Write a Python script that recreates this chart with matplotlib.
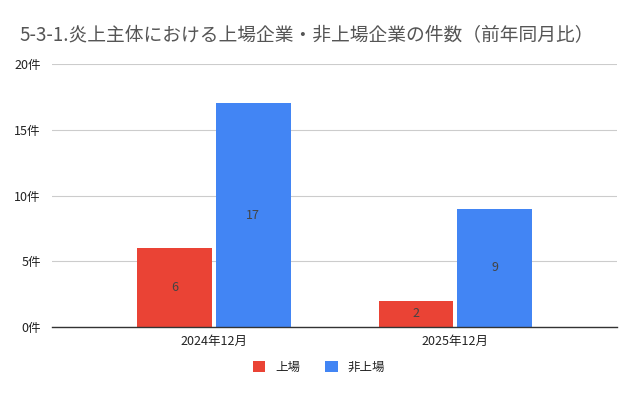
import matplotlib.pyplot as plt
import numpy as np

plt.rcParams['font.family'] = ['Noto Sans CJK JP', 'DejaVu Sans']

categories = ['2024年12月', '2025年12月']
listed = [6, 2]
unlisted = [17, 9]
series_names = ['上場', '非上場']
yticks = [0, 5, 10, 15, 20]

red = '#EA4335'
blue = '#4285F4'

fig = plt.figure(figsize=(6.38, 3.95), dpi=100)
ax = fig.add_axes([0.0815, 0.172, 0.886, 0.666])

x = np.arange(len(categories))
w = 0.31
gap = 0.008
b1 = ax.bar(x - w / 2 - gap, listed, w, color=red, label=series_names[0], zorder=3)
b2 = ax.bar(x + w / 2 + gap, unlisted, w, color=blue, label=series_names[1], zorder=3)

for bars in (b1, b2):
    for b in bars:
        h = b.get_height()
        ax.text(b.get_x() + b.get_width() / 2, h / 2, str(int(h)),
                ha='center', va='center', fontsize=9, color='#444444', zorder=4)

ax.set_xlim(-0.67, 1.67)
ax.set_ylim(0, 20)
ax.set_yticks(yticks)
ax.set_yticklabels([f'{v}件' for v in yticks])
ax.set_xticks(x)
ax.set_xticklabels(categories)
ax.tick_params(axis='both', length=0, labelsize=9, colors='#222222')
ax.tick_params(axis='y', pad=8)
ax.tick_params(axis='x', pad=6)

ax.grid(axis='y', color='#cccccc', linewidth=0.8, zorder=0)
for s in ['top', 'right', 'left']:
    ax.spines[s].set_visible(False)
ax.spines['bottom'].set_color('#333333')
ax.spines['bottom'].set_linewidth(1)
ax.spines['bottom'].set_zorder(5)

fig.text(0.031, 0.912, '5-3-1.炎上主体における上場企業・非上場企業の件数（前年同月比）',
         fontsize=13.5, color='#555555', ha='left', va='center')

fig.legend(handles=[b1, b2], labels=series_names, loc='center',
           bbox_to_anchor=(0.5, 0.07), ncol=2, frameon=False, fontsize=9,
           handlelength=1.0, handleheight=1.0, handletextpad=0.8, columnspacing=2.0,
           labelcolor='#222222')

fig.savefig('out.png', dpi=100)
